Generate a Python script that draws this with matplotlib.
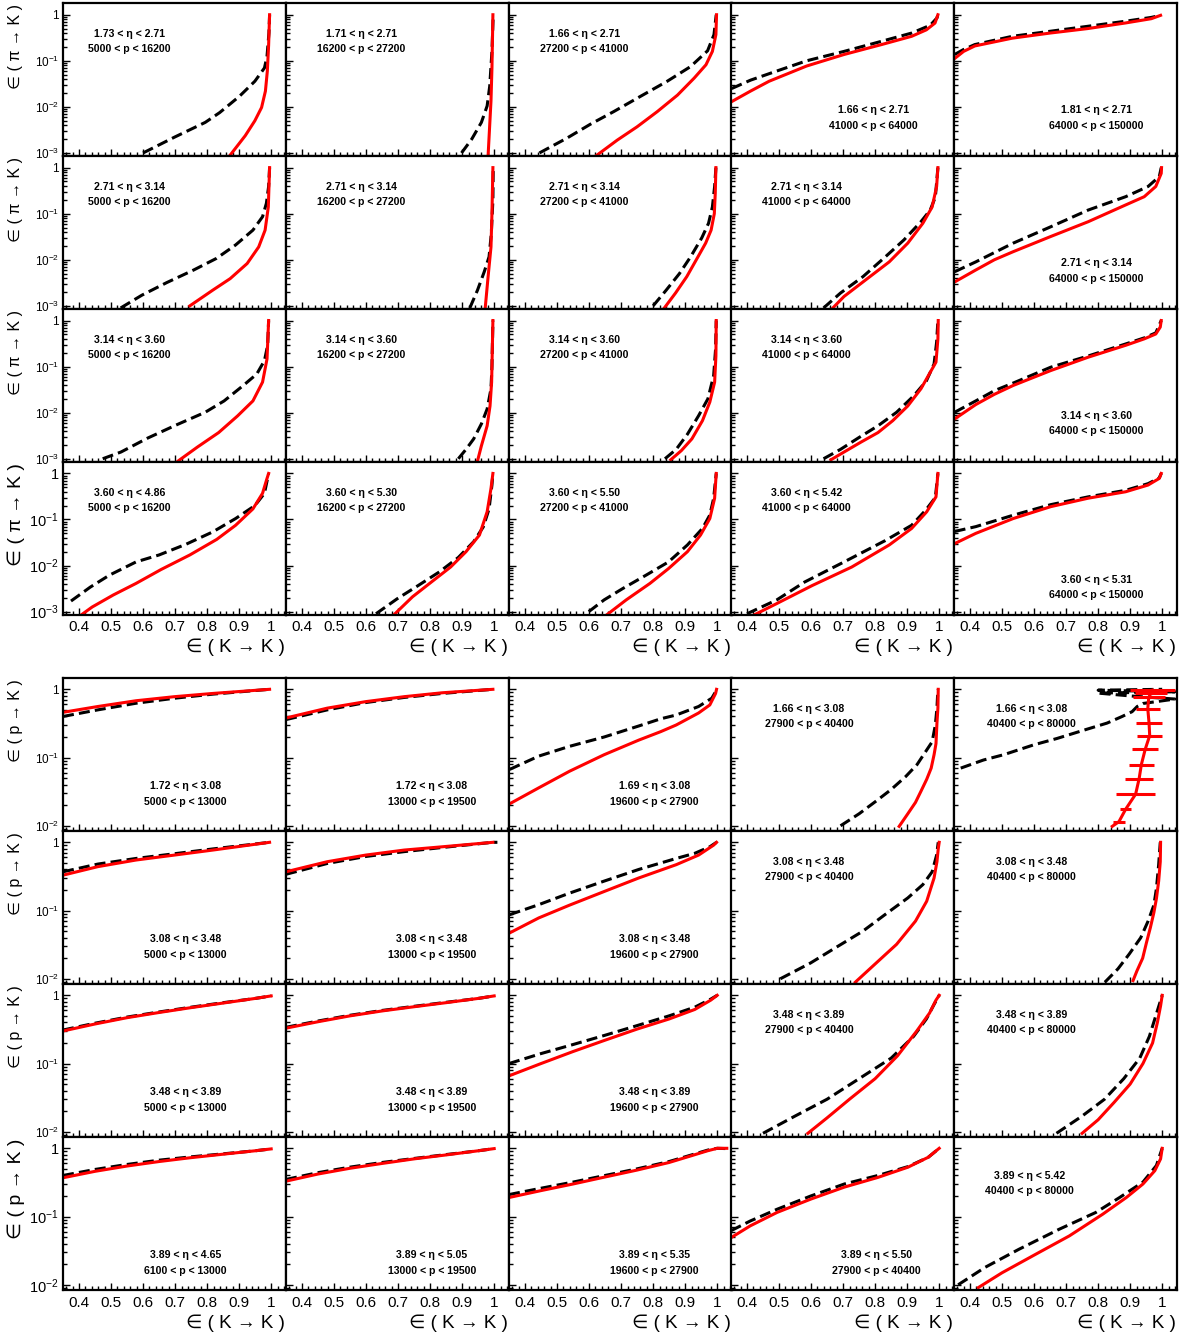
import matplotlib
matplotlib.use("Agg")
import matplotlib.pyplot as plt
from matplotlib.ticker import FixedLocator, FixedFormatter, MultipleLocator, LogLocator, NullFormatter

plt.rcParams['font.family'] = ['Liberation Sans', 'DejaVu Sans']
plt.rcParams['mathtext.fontset'] = 'custom'
plt.rcParams['mathtext.rm'] = 'Liberation Sans'
plt.rcParams['mathtext.it'] = 'Liberation Sans:italic'
plt.rcParams['mathtext.bf'] = 'Liberation Sans:bold'

# ---------------- DATA : pi -> K block (x = eff(K->K), y = eff(pi->K)) ----------------
pi_r1c1_blk = [(0.600,1.0e-3),(0.698,2.2e-3),(0.794,4.6e-3),(0.839,7.5e-3),(0.901,0.017),(0.949,0.036),(0.979,0.07),(0.987,0.126),(0.993,0.4),(0.995,1.0)]
pi_r1c1_red = [(0.871,8.8e-4),(0.919,2.37e-3),(0.949,5.0e-3),(0.970,9.7e-3),(0.982,0.022),(0.988,0.06),(0.992,0.22),(0.995,1.0)]
pi_r1c2_blk = [(0.898,1.0e-3),(0.930,2.0e-3),(0.960,4.6e-3),(0.978,0.0105),(0.986,0.028),(0.993,0.16),(0.997,1.0)]
pi_r1c2_red = [(0.981,8.8e-4),(0.990,0.0135),(0.993,0.07),(0.996,1.0)]
pi_r1c3_blk = [(0.445,1.0e-3),(0.531,2.1e-3),(0.604,4.2e-3),(0.677,7.9e-3),(0.761,0.017),(0.844,0.036),(0.917,0.075),(0.970,0.165),(0.990,0.37),(0.997,1.0)]
pi_r1c3_red = [(0.625,9e-4),(0.688,1.9e-3),(0.750,3.7e-3),(0.813,7.9e-3),(0.876,0.018),(0.928,0.042),(0.965,0.082),(0.985,0.16),(0.996,0.37),(0.998,1.0)]
pi_r1c4_blk = [(0.352,0.025),(0.411,0.038),(0.493,0.06),(0.586,0.10),(0.703,0.16),(0.820,0.265),(0.914,0.40),(0.972,0.59),(0.993,0.85),(0.996,1.0)]
pi_r1c4_red = [(0.352,0.013),(0.411,0.022),(0.469,0.036),(0.586,0.077),(0.703,0.137),(0.820,0.225),(0.914,0.34),(0.960,0.47),(0.987,0.66),(0.996,1.0)]
pi_r1c5_blk = [(0.352,0.137),(0.380,0.176),(0.415,0.225),(0.532,0.34),(0.650,0.437),(0.767,0.56),(0.884,0.72),(0.966,0.875),(0.995,0.97)]
pi_r1c5_red = [(0.352,0.112),(0.380,0.16),(0.415,0.21),(0.532,0.31),(0.650,0.40),(0.767,0.50),(0.884,0.66),(0.966,0.82),(0.995,0.97)]

pi_r2c1_blk = [(0.53,9e-4),(0.596,1.7e-3),(0.674,3.2e-3),(0.758,6e-3),(0.829,0.0107),(0.889,0.021),(0.943,0.044),(0.973,0.086),(0.985,0.168),(0.992,0.39),(0.995,1.0)]
pi_r2c1_red = [(0.746,1e-3),(0.818,2.2e-3),(0.872,3.9e-3),(0.925,8.3e-3),(0.961,0.019),(0.981,0.044),(0.991,0.14),(0.995,1.0)]
pi_r2c2_blk = [(0.924,9e-4),(0.948,2.2e-3),(0.969,5.5e-3),(0.984,0.0116),(0.991,0.037),(0.996,0.2),(0.997,1.0)]
pi_r2c2_red = [(0.972,9e-4),(0.981,4.3e-3),(0.990,0.019),(0.993,0.1),(0.996,1.0)]
pi_r2c3_blk = [(0.80,1e-3),(0.841,2.2e-3),(0.882,5e-3),(0.917,0.0116),(0.952,0.03),(0.973,0.062),(0.985,0.14),(0.992,0.39),(0.996,1.0)]
pi_r2c3_red = [(0.835,9e-4),(0.870,1.9e-3),(0.905,4.3e-3),(0.940,0.0116),(0.964,0.023),(0.981,0.044),(0.991,0.1),(0.994,0.28),(0.996,1.0)]
pi_r2c4_blk = [(0.639,9e-4),(0.692,1.9e-3),(0.762,4.3e-3),(0.832,0.0116),(0.890,0.027),(0.943,0.067),(0.972,0.12),(0.988,0.23),(0.996,1.0)]
pi_r2c4_red = [(0.668,9e-4),(0.703,1.6e-3),(0.762,3.3e-3),(0.844,9e-3),(0.902,0.023),(0.949,0.062),(0.978,0.14),(0.992,0.39),(0.996,1.0)]
pi_r2c5_blk = [(0.352,5.5e-3),(0.418,9e-3),(0.535,0.023),(0.652,0.052),(0.769,0.12),(0.886,0.234),(0.956,0.39),(0.991,0.64),(0.997,1.0)]
pi_r2c5_red = [(0.352,3.3e-3),(0.418,6e-3),(0.476,0.01),(0.535,0.015),(0.652,0.032),(0.769,0.067),(0.886,0.155),(0.944,0.234),(0.980,0.39),(0.997,0.75),(0.998,1.0)]

pi_r3c1_blk = [(0.474,1e-3),(0.531,1.4e-3),(0.614,2.8e-3),(0.698,5.2e-3),(0.794,0.0102),(0.853,0.018),(0.913,0.039),(0.955,0.069),(0.979,0.135),(0.989,0.29),(0.992,1.0)]
pi_r3c1_red = [(0.71,9e-4),(0.77,1.8e-3),(0.836,3.7e-3),(0.895,8.5e-3),(0.943,0.018),(0.973,0.046),(0.987,0.147),(0.992,1.0)]
pi_r3c2_blk = [(0.888,1e-3),(0.912,1.6e-3),(0.936,2.7e-3),(0.960,5.7e-3),(0.978,0.012),(0.990,0.033),(0.993,0.1),(0.996,1.0)]
pi_r3c2_red = [(0.948,9e-4),(0.960,1.9e-3),(0.978,5.2e-3),(0.987,0.014),(0.992,0.046),(0.996,1.0)]
pi_r3c3_blk = [(0.837,1e-3),(0.872,1.6e-3),(0.907,3.4e-3),(0.942,8.6e-3),(0.971,0.02),(0.989,0.064),(0.995,0.24),(0.997,1.0)]
pi_r3c3_red = [(0.855,9.5e-4),(0.888,1.5e-3),(0.921,2.7e-3),(0.954,6.7e-3),(0.977,0.017),(0.992,0.046),(0.996,0.17),(0.997,1.0)]
pi_r3c4_blk = [(0.639,1e-3),(0.692,1.6e-3),(0.750,2.9e-3),(0.809,5.2e-3),(0.867,0.0102),(0.920,0.023),(0.960,0.049),(0.984,0.114),(0.992,0.34),(0.996,1.0)]
pi_r3c4_red = [(0.662,9.5e-4),(0.703,1.4e-3),(0.756,2.3e-3),(0.809,3.7e-3),(0.855,6.7e-3),(0.902,0.014),(0.943,0.033),(0.972,0.075),(0.990,0.125),(0.996,0.4),(0.997,1.0)]
pi_r3c5_blk = [(0.352,0.0102),(0.418,0.018),(0.476,0.03),(0.535,0.044),(0.652,0.097),(0.769,0.17),(0.886,0.31),(0.944,0.42),(0.980,0.54),(0.997,1.0)]
pi_r3c5_red = [(0.352,7.3e-3),(0.418,0.015),(0.476,0.025),(0.535,0.039),(0.652,0.082),(0.769,0.16),(0.886,0.29),(0.944,0.40),(0.980,0.51),(0.994,0.72),(0.997,1.0)]

pi_r4c1_blk = [(0.375,1.7e-3),(0.435,3.4e-3),(0.495,6.2e-3),(0.578,0.012),(0.650,0.017),(0.734,0.029),(0.818,0.054),(0.889,0.105),(0.949,0.2),(0.979,0.37),(0.992,1.0)]
pi_r4c1_red = [(0.405,8.3e-4),(0.441,1.26e-3),(0.507,2.3e-3),(0.578,4.1e-3),(0.656,8.2e-3),(0.746,0.017),(0.830,0.037),(0.889,0.075),(0.943,0.17),(0.973,0.37),(0.987,0.78),(0.992,1.0)]
pi_r4c2_blk = [(0.631,9e-4),(0.697,1.9e-3),(0.763,3.7e-3),(0.829,7.3e-3),(0.888,0.015),(0.936,0.033),(0.966,0.069),(0.984,0.17),(0.993,0.56),(0.996,1.0)]
pi_r4c2_red = [(0.685,8.3e-4),(0.745,2.1e-3),(0.804,4.4e-3),(0.864,9.3e-3),(0.912,0.02),(0.954,0.046),(0.978,0.147),(0.990,0.47),(0.996,1.0)]
pi_r4c3_blk = [(0.599,1e-3),(0.647,1.8e-3),(0.706,3.2e-3),(0.778,6.2e-3),(0.848,0.012),(0.907,0.028),(0.954,0.064),(0.977,0.125),(0.989,0.29),(0.997,1.0)]
pi_r4c3_red = [(0.653,8.3e-4),(0.716,1.8e-3),(0.790,4.1e-3),(0.848,8.6e-3),(0.907,0.02),(0.948,0.046),(0.977,0.105),(0.992,0.29),(0.997,1.0)]
pi_r4c4_blk = [(0.40,9e-4),(0.493,1.8e-3),(0.58,4.4e-3),(0.703,0.012),(0.832,0.035),(0.914,0.075),(0.958,0.16),(0.988,0.30),(0.996,1.0)]
pi_r4c4_red = [(0.41,7.7e-4),(0.493,1.5e-3),(0.604,3.7e-3),(0.727,9.3e-3),(0.844,0.028),(0.914,0.064),(0.961,0.147),(0.990,0.31),(0.996,1.0)]
pi_r4c5_blk = [(0.352,0.055),(0.418,0.07),(0.535,0.124),(0.652,0.21),(0.769,0.31),(0.886,0.43),(0.956,0.60),(0.991,0.80),(0.997,1.0)]
pi_r4c5_red = [(0.352,0.03),(0.418,0.05),(0.535,0.105),(0.652,0.19),(0.769,0.29),(0.886,0.40),(0.956,0.56),(0.991,0.78),(0.997,1.0)]

# ---------------- DATA : p -> K block ----------------
p_r1c1_blk = [(0.35,0.40),(0.459,0.50),(0.578,0.625),(0.698,0.74),(0.818,0.85),(0.995,1.0)]
p_r1c1_red = [(0.35,0.46),(0.459,0.56),(0.578,0.68),(0.698,0.78),(0.818,0.87),(0.995,1.0)]
p_r1c2_blk = [(0.35,0.36),(0.479,0.50),(0.599,0.64),(0.719,0.76),(0.838,0.87),(0.996,1.0)]
p_r1c2_red = [(0.35,0.38),(0.479,0.53),(0.599,0.66),(0.719,0.78),(0.838,0.89),(0.996,1.0)]
p_r1c3_blk = [(0.352,0.067),(0.443,0.105),(0.539,0.146),(0.647,0.2),(0.755,0.29),(0.824,0.37),(0.872,0.42),(0.942,0.56),(0.983,0.74),(0.995,0.92),(0.998,1.0)]
p_r1c3_red = [(0.352,0.021),(0.443,0.036),(0.539,0.063),(0.647,0.11),(0.755,0.18),(0.824,0.24),(0.872,0.30),(0.942,0.45),(0.977,0.59),(0.995,0.87),(0.998,1.0)]
p_r1c4_blk = [(0.692,0.01),(0.75,0.015),(0.803,0.023),(0.85,0.034),(0.896,0.053),(0.931,0.079),(0.955,0.117),(0.978,0.17),(0.988,0.3),(0.993,0.53),(0.996,1.0)]
p_r1c4_red = [(0.875,9.8e-3),(0.902,0.015),(0.926,0.022),(0.943,0.032),(0.961,0.048),(0.975,0.07),(0.984,0.11),(0.99,0.16),(0.993,0.32),(0.996,0.53),(0.997,1.0)]
p_r1c5_blk = [(0.371,0.07),(0.442,0.092),(0.505,0.11),(0.598,0.153),(0.671,0.19),(0.765,0.26),(0.828,0.32),(0.875,0.40),(0.906,0.47),(0.922,0.56),(0.94,0.62),(1.04,0.72),(0.90,0.80),(0.80,0.88),(1.04,0.92),(0.80,0.97),(1.0,1.0)]
p_r1c5_red_x = [0.844,0.865,0.886,0.917,0.928,0.935,0.947,0.961,0.959,0.955,0.958,0.965,0.970]
p_r1c5_red_y = [0.0098,0.0115,0.0175,0.029,0.049,0.079,0.132,0.21,0.32,0.52,0.76,0.88,0.97]
p_r1c5_red_xerr = [0.0,0.02,0.018,0.06,0.043,0.039,0.04,0.039,0.04,0.038,0.05,0.05,0.07]

p_r2c1_blk = [(0.35,0.37),(0.459,0.48),(0.578,0.58),(0.698,0.68),(0.818,0.80),(0.995,1.0)]
p_r2c1_red = [(0.35,0.33),(0.459,0.44),(0.578,0.55),(0.698,0.65),(0.818,0.77),(0.995,1.0)]
p_r2c2_blk = [(0.35,0.34),(0.479,0.49),(0.599,0.62),(0.719,0.73),(0.838,0.84),(0.996,1.0),(1.01,1.0)]
p_r2c2_red = [(0.35,0.37),(0.479,0.52),(0.599,0.65),(0.719,0.77),(0.838,0.86),(0.996,1.0)]
p_r2c3_blk = [(0.352,0.087),(0.443,0.122),(0.539,0.18),(0.647,0.27),(0.755,0.40),(0.872,0.58),(0.93,0.69),(0.977,0.86),(0.998,1.0)]
p_r2c3_red = [(0.352,0.047),(0.443,0.078),(0.539,0.12),(0.647,0.19),(0.755,0.30),(0.872,0.47),(0.942,0.65),(0.989,0.91),(0.998,1.0)]
p_r2c4_blk = [(0.504,0.01),(0.598,0.017),(0.668,0.027),(0.762,0.05),(0.832,0.088),(0.902,0.153),(0.949,0.24),(0.978,0.37),(0.992,0.65),(0.997,1.0)]
p_r2c4_red = [(0.738,8.9e-3),(0.797,0.016),(0.867,0.032),(0.926,0.07),(0.961,0.137),(0.984,0.30),(0.993,0.52),(0.997,0.8),(1.0,1.0)]
p_r2c5_blk = [(0.821,8.9e-3),(0.862,0.014),(0.897,0.023),(0.933,0.04),(0.956,0.07),(0.974,0.12),(0.982,0.21),(0.989,0.47),(0.994,1.0)]
p_r2c5_red = [(0.909,9.4e-3),(0.921,0.013),(0.939,0.02),(0.951,0.034),(0.963,0.056),(0.974,0.093),(0.982,0.15),(0.989,0.27),(0.994,0.52),(0.995,1.0)]

p_r3c1_blk = [(0.35,0.31),(0.45,0.39),(0.55,0.48),(0.65,0.57),(0.75,0.67),(0.85,0.78),(0.95,0.90),(1.0,0.98)]
p_r3c1_red = [(0.35,0.30),(0.45,0.38),(0.55,0.47),(0.65,0.56),(0.75,0.66),(0.85,0.77),(0.95,0.90),(1.0,0.98)]
p_r3c2_blk = [(0.35,0.34),(0.45,0.42),(0.55,0.51),(0.65,0.60),(0.75,0.69),(0.85,0.79),(0.95,0.90),(1.0,0.98)]
p_r3c2_red = [(0.35,0.33),(0.45,0.41),(0.55,0.50),(0.65,0.59),(0.75,0.68),(0.85,0.78),(0.95,0.90),(1.0,0.98)]
p_r3c3_blk = [(0.35,0.10),(0.45,0.14),(0.55,0.19),(0.65,0.26),(0.75,0.36),(0.85,0.50),(0.93,0.67),(0.98,0.88),(1.0,1.0)]
p_r3c3_red = [(0.35,0.066),(0.45,0.10),(0.55,0.15),(0.65,0.22),(0.75,0.32),(0.85,0.45),(0.93,0.62),(0.98,0.85),(1.0,1.0)]
p_r3c4_blk = [(0.45,0.0095),(0.55,0.017),(0.65,0.03),(0.75,0.06),(0.85,0.12),(0.92,0.25),(0.96,0.45),(0.985,0.75),(1.0,1.0)]
p_r3c4_red = [(0.59,0.0095),(0.65,0.016),(0.72,0.03),(0.80,0.06),(0.87,0.13),(0.93,0.3),(0.97,0.55),(0.99,0.85),(1.0,1.0)]
p_r3c5_blk = [(0.67,0.0095),(0.75,0.017),(0.82,0.03),(0.88,0.06),(0.93,0.12),(0.96,0.25),(0.98,0.5),(1.0,1.0)]
p_r3c5_red = [(0.75,0.0095),(0.80,0.015),(0.85,0.027),(0.90,0.05),(0.94,0.10),(0.97,0.20),(0.985,0.40),(0.995,0.70),(1.0,1.0)]

p_r4c1_blk = [(0.35,0.40),(0.45,0.49),(0.55,0.58),(0.65,0.67),(0.75,0.75),(0.85,0.83),(0.95,0.92),(1.0,0.98)]
p_r4c1_red = [(0.35,0.37),(0.45,0.46),(0.55,0.55),(0.65,0.64),(0.75,0.73),(0.85,0.82),(0.95,0.92),(1.0,0.98)]
p_r4c2_blk = [(0.35,0.35),(0.45,0.44),(0.55,0.53),(0.65,0.62),(0.75,0.71),(0.85,0.81),(0.95,0.92),(1.0,0.99)]
p_r4c2_red = [(0.35,0.33),(0.45,0.42),(0.55,0.51),(0.65,0.60),(0.75,0.70),(0.85,0.80),(0.95,0.92),(1.0,0.99)]
p_r4c3_blk = [(0.35,0.21),(0.45,0.26),(0.55,0.32),(0.65,0.40),(0.75,0.50),(0.85,0.64),(0.92,0.80),(0.97,0.94),(1.0,1.0),(1.03,0.99)]
p_r4c3_red = [(0.35,0.19),(0.45,0.24),(0.55,0.30),(0.65,0.38),(0.75,0.48),(0.85,0.62),(0.92,0.78),(0.97,0.92),(1.0,1.0),(1.03,1.0)]
p_r4c4_blk = [(0.35,0.062),(0.41,0.086),(0.494,0.128),(0.599,0.2),(0.704,0.3),(0.809,0.4),(0.903,0.54),(0.966,0.74),(1.0,1.0)]
p_r4c4_red = [(0.35,0.049),(0.41,0.073),(0.494,0.115),(0.599,0.18),(0.704,0.27),(0.809,0.375),(0.903,0.53),(0.966,0.74),(1.0,1.0)]
p_r4c5_blk = [(0.363,0.01),(0.447,0.018),(0.552,0.033),(0.678,0.065),(0.793,0.115),(0.867,0.19),(0.94,0.32),(0.982,0.56),(1.0,1.0)]
p_r4c5_red = [(0.426,0.0091),(0.50,0.015),(0.605,0.028),(0.71,0.052),(0.814,0.108),(0.888,0.19),(0.94,0.30),(0.977,0.47),(0.995,0.70),(1.0,1.0)]

# ---------------- TEXT ----------------
pi_eta_text = [
    ["1.73 < η < 2.71", "1.71 < η < 2.71", "1.66 < η < 2.71", "1.66 < η < 2.71", "1.81 < η < 2.71"],
    ["2.71 < η < 3.14"] * 5,
    ["3.14 < η < 3.60"] * 5,
    ["3.60 < η < 4.86", "3.60 < η < 5.30", "3.60 < η < 5.50", "3.60 < η < 5.42", "3.60 < η < 5.31"],
]
pi_p_text = ["5000 < p < 16200", "16200 < p < 27200", "27200 < p < 41000", "41000 < p < 64000", "64000 < p < 150000"]
p_eta_text = [
    ["1.72 < η < 3.08", "1.72 < η < 3.08", "1.69 < η < 3.08", "1.66 < η < 3.08", "1.66 < η < 3.08"],
    ["3.08 < η < 3.48"] * 5,
    ["3.48 < η < 3.89"] * 5,
    ["3.89 < η < 4.65", "3.89 < η < 5.05", "3.89 < η < 5.35", "3.89 < η < 5.50", "3.89 < η < 5.42"],
]
p_p_text_main = ["5000 < p < 13000", "13000 < p < 19500", "19600 < p < 27900", "27900 < p < 40400", "40400 < p < 80000"]
p_p_text_last = ["6100 < p < 13000", "13000 < p < 19500", "19600 < p < 27900", "27900 < p < 40400", "40400 < p < 80000"]

pi_ylabel = "∈ ( π → K )"
p_ylabel = "∈ ( p → K )"
x_label = "∈ ( K → K )"
pi_yticks = [1e-3, 1e-2, 1e-1, 1.0]
pi_yticklabels = [r"$10^{-3}$", r"$10^{-2}$", r"$10^{-1}$", "1"]
p_yticks = [1e-2, 1e-1, 1.0]
p_yticklabels = [r"$10^{-2}$", r"$10^{-1}$", "1"]
x_ticks = [0.4, 0.5, 0.6, 0.7, 0.8, 0.9, 1.0]
x_ticklabels = ["0.4", "0.5", "0.6", "0.7", "0.8", "0.9", "1"]

pi_curves = [
    [(pi_r1c1_red, pi_r1c1_blk), (pi_r1c2_red, pi_r1c2_blk), (pi_r1c3_red, pi_r1c3_blk), (pi_r1c4_red, pi_r1c4_blk), (pi_r1c5_red, pi_r1c5_blk)],
    [(pi_r2c1_red, pi_r2c1_blk), (pi_r2c2_red, pi_r2c2_blk), (pi_r2c3_red, pi_r2c3_blk), (pi_r2c4_red, pi_r2c4_blk), (pi_r2c5_red, pi_r2c5_blk)],
    [(pi_r3c1_red, pi_r3c1_blk), (pi_r3c2_red, pi_r3c2_blk), (pi_r3c3_red, pi_r3c3_blk), (pi_r3c4_red, pi_r3c4_blk), (pi_r3c5_red, pi_r3c5_blk)],
    [(pi_r4c1_red, pi_r4c1_blk), (pi_r4c2_red, pi_r4c2_blk), (pi_r4c3_red, pi_r4c3_blk), (pi_r4c4_red, pi_r4c4_blk), (pi_r4c5_red, pi_r4c5_blk)],
]
p_curves = [
    [(p_r1c1_red, p_r1c1_blk), (p_r1c2_red, p_r1c2_blk), (p_r1c3_red, p_r1c3_blk), (p_r1c4_red, p_r1c4_blk), (None, p_r1c5_blk)],
    [(p_r2c1_red, p_r2c1_blk), (p_r2c2_red, p_r2c2_blk), (p_r2c3_red, p_r2c3_blk), (p_r2c4_red, p_r2c4_blk), (p_r2c5_red, p_r2c5_blk)],
    [(p_r3c1_red, p_r3c1_blk), (p_r3c2_red, p_r3c2_blk), (p_r3c3_red, p_r3c3_blk), (p_r3c4_red, p_r3c4_blk), (p_r3c5_red, p_r3c5_blk)],
    [(p_r4c1_red, p_r4c1_blk), (p_r4c2_red, p_r4c2_blk), (p_r4c3_red, p_r4c3_blk), (p_r4c4_red, p_r4c4_blk), (p_r4c5_red, p_r4c5_blk)],
]

# ---------------- LAYOUT ----------------
W, H = 1188, 1340
col_left = [63, 286, 509, 731, 954]
col_w = 222.6
pi_row_top = [3.3, 156.2, 309.1, 462.0]
pi_row_h = 152.9
p_row_top = [678.3, 831.3, 984.3, 1137.3]
p_row_h = 153.0
XLIM = (0.35, 1.045)
PI_YLIM = (8.5e-4, 1.77)
P_YLIM = (8.3e-3, 1.45)

UL0 = (0.30, 0.80, 0.70)
UL = (0.34, 0.80, 0.70)
LR = (0.64, 0.30, 0.20)
LRlow = (0.64, 0.23, 0.13)
pi_lab_pos = [
    [UL0, UL, UL, LR, LR],
    [UL0, UL, UL, UL, LR],
    [UL0, UL, UL, UL, LR],
    [UL0, UL, UL, UL, LRlow],
]
BM0 = (0.55, 0.295, 0.19)
BM = (0.655, 0.295, 0.19)
BL0 = (0.55, 0.23, 0.125)
BL = (0.655, 0.23, 0.125)
UP = (0.35, 0.80, 0.70)
UP4 = (0.34, 0.75, 0.65)
p_lab_pos = [
    [BM0, BM, BM, UP, UP],
    [BM0, BM, BM, UP, UP],
    [BM0, BM, BM, UP, UP],
    [BL0, BL, BL, BL, UP4],
]

fig = plt.figure(figsize=(W / 100, H / 100), dpi=100)

RED = "#ff0000"
LW = 2.2
DASH = (0, (3.6, 1.7))


def make_axes(top_px, h_px, c):
    return fig.add_axes([col_left[c] / W, 1 - (top_px + h_px) / H, col_w / W, h_px / H])


def style_axes(ax, ylim, yt, ytl, show_y, show_x, big):
    ax.set_yscale("log")
    ax.set_xlim(*XLIM)
    ax.set_ylim(*ylim)
    ax.yaxis.set_major_locator(FixedLocator(yt))
    ax.yaxis.set_major_formatter(FixedFormatter(ytl))
    ax.yaxis.set_minor_locator(LogLocator(base=10, subs=[2, 3, 4, 5, 6, 7, 8, 9], numticks=20))
    ax.yaxis.set_minor_formatter(NullFormatter())
    ax.xaxis.set_major_locator(FixedLocator(x_ticks))
    ax.xaxis.set_major_formatter(FixedFormatter(x_ticklabels))
    ax.xaxis.set_minor_locator(MultipleLocator(0.02))
    ysz = 10.5 if big else 8.5
    ax.tick_params(axis="both", which="both", direction="in", top=False, right=False, width=1.0, color="black")
    ax.tick_params(axis="both", which="major", length=5)
    ax.tick_params(axis="both", which="minor", length=2.8)
    ax.tick_params(axis="y", labelleft=show_y, labelsize=ysz, pad=3)
    ax.tick_params(axis="x", labelbottom=show_x, labelsize=11, pad=4)
    for s in ax.spines.values():
        s.set_linewidth(1.6)
        s.set_color("black")


def draw_curves(ax, red, blk):
    bx = [p[0] for p in blk]
    by = [p[1] for p in blk]
    ax.plot(bx, by, color="black", lw=LW, linestyle=DASH, solid_capstyle="butt")
    if red is not None:
        rx = [p[0] for p in red]
        ry = [p[1] for p in red]
        ax.plot(rx, ry, color=RED, lw=LW, solid_joinstyle="round")


def put_label(ax, pos, l1, l2):
    x, y1, y2 = pos
    kw = dict(transform=ax.transAxes, ha="center", va="center", fontsize=7.6, fontweight="bold",
              family=["Liberation Sans", "DejaVu Sans"])
    ax.text(x, y1, l1, **kw)
    ax.text(x, y2, l2, **kw)


# ----- pi -> K block -----
for r in range(4):
    for c in range(5):
        ax = make_axes(pi_row_top[r], pi_row_h, c)
        style_axes(ax, PI_YLIM, pi_yticks, pi_yticklabels, c == 0, r == 3, r == 3)
        red, blk = pi_curves[r][c]
        draw_curves(ax, red, blk)
        put_label(ax, pi_lab_pos[r][c], pi_eta_text[r][c], pi_p_text[c])
    fs = 14 if r == 3 else 11.5
    fig.text(16 / W, 1 - (pi_row_top[r] + 1) / H, pi_ylabel, rotation=90, ha="center", va="top", fontsize=fs)

# ----- p -> K block -----
for r in range(4):
    for c in range(5):
        ax = make_axes(p_row_top[r], p_row_h, c)
        style_axes(ax, P_YLIM, p_yticks, p_yticklabels, c == 0, r == 3, r == 3)
        red, blk = p_curves[r][c]
        draw_curves(ax, red, blk)
        if r == 0 and c == 4:
            ax.errorbar(p_r1c5_red_x, p_r1c5_red_y, xerr=p_r1c5_red_xerr, color=RED, lw=LW,
                        elinewidth=LW, capsize=0, zorder=3)
        ptxt = p_p_text_last[c] if r == 3 else p_p_text_main[c]
        put_label(ax, p_lab_pos[r][c], p_eta_text[r][c], ptxt)
    fs = 14 if r == 3 else 11.5
    fig.text(16 / W, 1 - (p_row_top[r] + 1) / H, p_ylabel, rotation=90, ha="center", va="top", fontsize=fs)

# x-axis titles under last rows
for c in range(5):
    right = (col_left[c] + col_w - 1) / W
    fig.text(right, 1 - 647 / H, x_label, ha="right", va="center", fontsize=13.5)
    fig.text(right, 1 - 1323 / H, x_label, ha="right", va="center", fontsize=13.5)

fig.savefig("out.png", dpi=100)
